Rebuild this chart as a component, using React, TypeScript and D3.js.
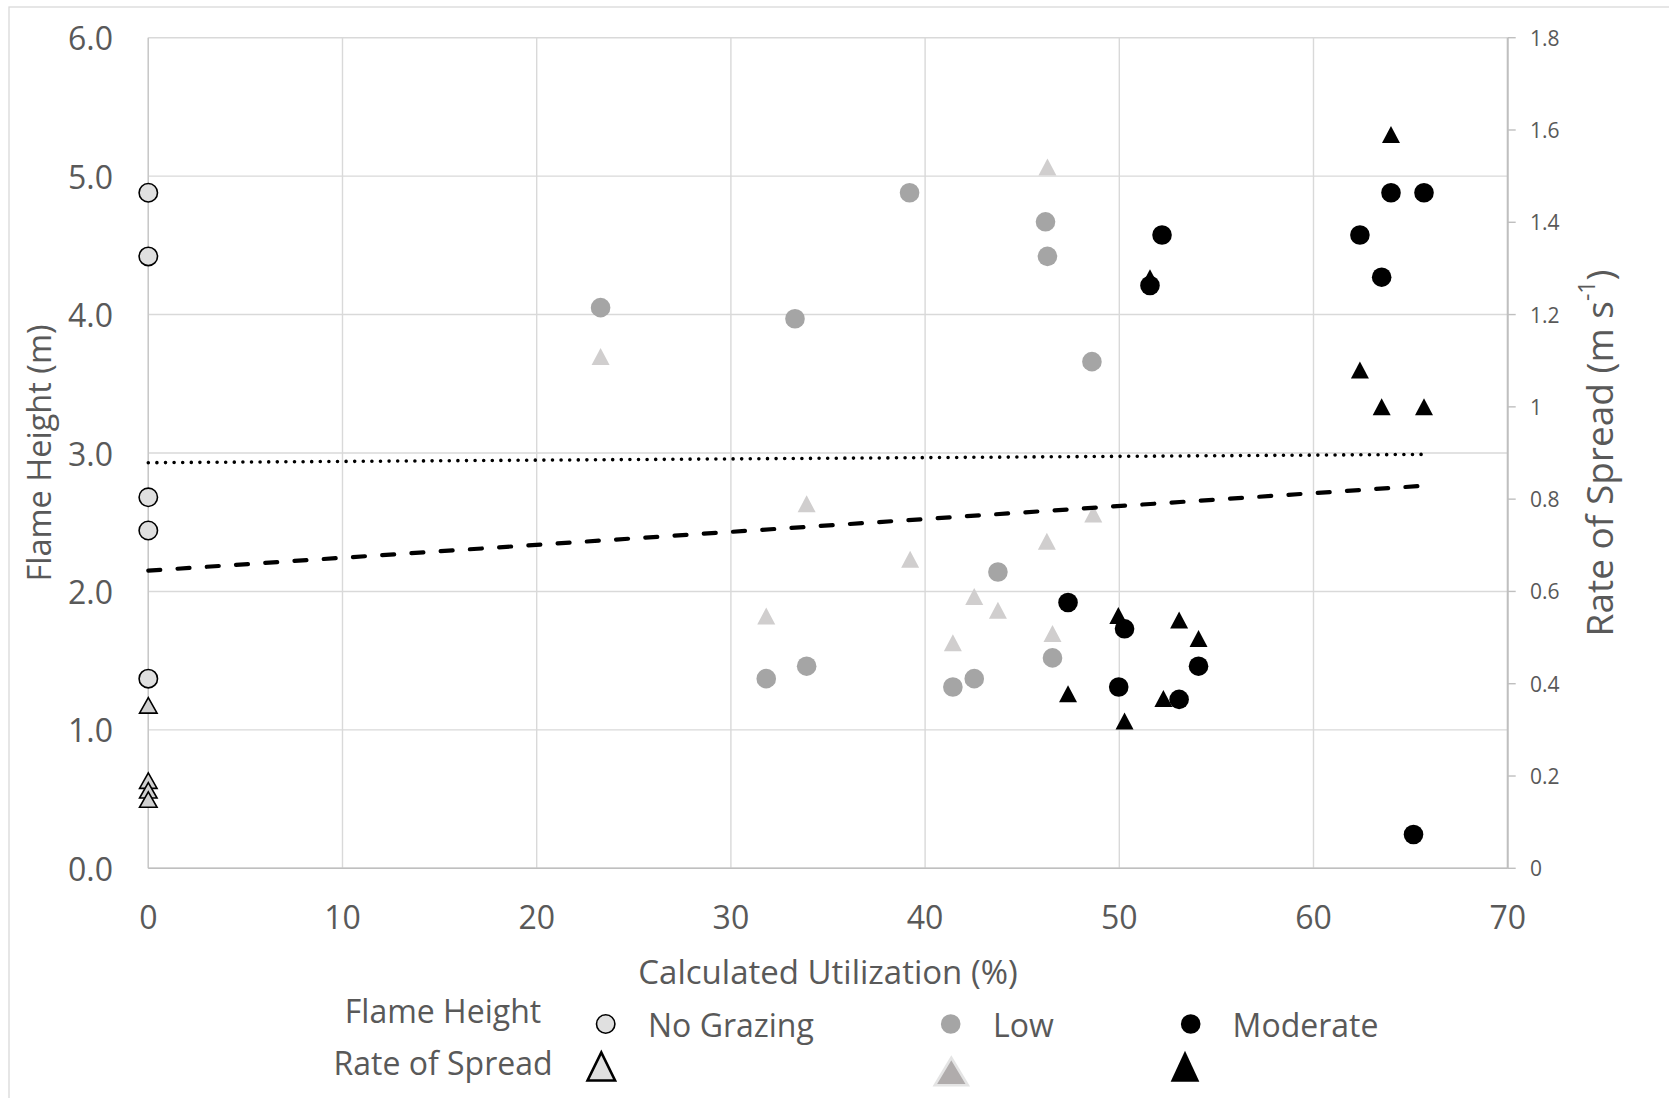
import React from "react";
import * as d3 from "d3";

// ---------- data ----------
const noGrazingFhX = [0, 0, 0, 0, 0];
const noGrazingFh = [4.88, 4.42, 2.68, 2.44, 1.37];
const noGrazingRosX = [0, 0, 0, 0];
const noGrazingRos = [0.353, 0.19, 0.169, 0.149];

const lowFhX = [23.29, 33.3, 39.2, 46.2, 46.3, 48.59, 43.75, 31.82, 33.9, 41.43, 42.53, 46.56];
const lowFh = [4.05, 3.97, 4.88, 4.67, 4.42, 3.66, 2.14, 1.37, 1.46, 1.31, 1.37, 1.52];
const lowRosX = [23.29, 33.9, 39.23, 46.3, 48.66, 46.27, 42.53, 43.75, 31.82, 41.43, 46.56];
const lowRos = [1.109, 0.79, 0.67, 1.52, 0.768, 0.709, 0.589, 0.559, 0.547, 0.489, 0.509];

const modFhX = [47.36, 50.27, 49.97, 54.08, 53.08, 51.58, 52.2, 62.39, 63.51, 63.99, 65.69, 65.15];
const modFh = [1.92, 1.73, 1.31, 1.46, 1.22, 4.21, 4.575, 4.575, 4.27, 4.88, 4.88, 0.244];
const modRosX = [63.99, 62.39, 63.51, 65.69, 51.58, 49.95, 53.08, 54.08, 47.36, 52.27, 50.27];
const modRos = [1.59, 1.08, 1.0, 1.0, 1.28, 0.548, 0.538, 0.498, 0.378, 0.368, 0.319];

const dottedTrendX = [0, 65.7];
const dottedTrendFh = [2.93, 2.99];
const dashedTrendX = [0, 65.7];
const dashedTrendRos = [0.645, 0.829];

const xTicks = [0, 10, 20, 30, 40, 50, 60, 70];
const leftTicks = [0, 1, 2, 3, 4, 5, 6];
const leftTickLabels = ["0.0", "1.0", "2.0", "3.0", "4.0", "5.0", "6.0"];
const rightTicks = [0, 0.2, 0.4, 0.6, 0.8, 1.0, 1.2, 1.4, 1.6, 1.8];
const rightTickLabels = ["0", "0.2", "0.4", "0.6", "0.8", "1", "1.2", "1.4", "1.6", "1.8"];

const legendGroups = ["No Grazing", "Low", "Moderate"];

// ---------- layout ----------
const W = 1669;
const H = 1098;
const FONT = "'Open Sans', 'Noto Sans', sans-serif";
const TEXT = "#595959";

const x = d3.scaleLinear().domain([0, 70]).range([148.3, 1507.7]);
const yL = d3.scaleLinear().domain([0, 6]).range([868.3, 37.7]);
const yR = d3.scaleLinear().domain([0, 1.8]).range([868.3, 37.7]);

function tri(cx: number, cy: number, w: number, h: number) {
  return `M${cx - w / 2},${cy + h / 2}L${cx + w / 2},${cy + h / 2}L${cx},${cy - h / 2}Z`;
}

const line = d3.line<[number, number]>().x((d) => d[0]).y((d) => d[1]);

export default function App() {
  const zip = (a: number[], b: number[]) => a.map((v, i) => [v, b[i]] as [number, number]);

  return (
    <svg
      width={W}
      height={H}
      style={{ position: "absolute", left: 0, top: 0, background: "#fff" }}
      fontFamily={FONT}
    >
      <rect x={0} y={0} width={W} height={H} fill="#fff" />
      <rect x={9} y={7} width={W + 20} height={H + 20} fill="none" stroke="#d9d9d9" strokeWidth={1.3} />

      {/* gridlines */}
      {leftTicks.map((t) => (
        <line key={"hg" + t} x1={x(0)} x2={x(70)} y1={yL(t)} y2={yL(t)} stroke="#d9d9d9" strokeWidth={1.4} />
      ))}
      {xTicks.map((t) => (
        <line key={"vg" + t} x1={x(t)} x2={x(t)} y1={yL(0)} y2={yL(6)} stroke="#d9d9d9" strokeWidth={1.4} />
      ))}
      {/* axes */}
      <line x1={x(0)} x2={x(0)} y1={yL(0)} y2={yL(6)} stroke="#c8c8c8" strokeWidth={1.4} />
      <line x1={x(0)} x2={x(70)} y1={yL(0)} y2={yL(0)} stroke="#bfbfbf" strokeWidth={1.6} />
      <line x1={x(70)} x2={x(70)} y1={yR(0)} y2={yR(1.8)} stroke="#bfbfbf" strokeWidth={2} />
      {rightTicks.map((t) => (
        <line key={"rt" + t} x1={x(70)} x2={x(70) + 8} y1={yR(t)} y2={yR(t)} stroke="#bfbfbf" strokeWidth={1.4} />
      ))}

      {/* tick labels */}
      {leftTicks.map((t, i) => (
        <text key={"lt" + t} x={113} y={yL(t)} dominantBaseline="central" textAnchor="end" fontSize={32} fill={TEXT}>
          {leftTickLabels[i]}
        </text>
      ))}
      {xTicks.map((t) => (
        <text key={"xt" + t} x={x(t)} y={928.5} textAnchor="middle" fontSize={32} fill={TEXT}>
          {t}
        </text>
      ))}
      {rightTicks.map((t, i) => (
        <text key={"rl" + t} x={1530} y={yR(t)} dominantBaseline="central" textAnchor="start" fontSize={21} fill={TEXT}>
          {rightTickLabels[i]}
        </text>
      ))}

      {/* axis titles */}
      <text
        transform={`translate(38,${(yL(0) + yL(6)) / 2}) rotate(-90)`}
        textAnchor="middle"
        dominantBaseline="central"
        fontSize={32.5}
        fill={TEXT}
      >
        Flame Height (m)
      </text>
      <text
        transform={`translate(1598,${(yL(0) + yL(6)) / 2}) rotate(-90)`}
        textAnchor="middle"
        dominantBaseline="central"
        fontSize={37}
        fill={TEXT}
      >
        Rate of Spread (m s<tspan dy={-12} fontSize={23}>-1</tspan>
        <tspan dy={12}>)</tspan>
      </text>
      <text x={(x(0) + x(70)) / 2} y={971} textAnchor="middle" dominantBaseline="central" fontSize={33} fill={TEXT}>
        Calculated Utilization (%)
      </text>

      {/* triangles (rate of spread) */}
      {zip(noGrazingRosX, noGrazingRos).map(([a, b], i) => (
        <path key={"ngt" + i} d={tri(x(a), yR(b), 17.5, 15.5)} fill="#d0d0d0" stroke="#000" strokeWidth={1.6} />
      ))}
      {zip(lowRosX, lowRos).map(([a, b], i) => (
        <path key={"lt" + i} d={tri(x(a), yR(b), 18, 17)} fill="#d0cece" />
      ))}
      {zip(modRosX, modRos).map(([a, b], i) => (
        <path key={"mt" + i} d={tri(x(a), yR(b), 18, 17)} fill="#000" />
      ))}

      {/* circles (flame height) */}
      {zip(noGrazingFhX, noGrazingFh).map(([a, b], i) => (
        <circle key={"ngc" + i} cx={x(a)} cy={yL(b)} r={9.2} fill="#e0e0e0" stroke="#000" strokeWidth={1.6} />
      ))}
      {zip(lowFhX, lowFh).map(([a, b], i) => (
        <circle key={"lc" + i} cx={x(a)} cy={yL(b)} r={9.8} fill="#a5a5a5" />
      ))}
      {zip(modFhX, modFh).map(([a, b], i) => (
        <circle key={"mc" + i} cx={x(a)} cy={yL(b)} r={9.8} fill="#000" />
      ))}

      {/* trend lines */}
      <path
        d={line(dottedTrendX.map((v, i) => [x(v), yL(dottedTrendFh[i])] as [number, number])) || ""}
        fill="none"
        stroke="#000"
        strokeWidth={3.6}
        strokeLinecap="round"
        strokeDasharray="0 8.6"
      />
      <path
        d={line(dashedTrendX.map((v, i) => [x(v), yR(dashedTrendRos[i])] as [number, number])) || ""}
        fill="none"
        stroke="#000"
        strokeWidth={4.2}
        strokeLinecap="round"
        strokeDasharray="12 17.3"
      />

      {/* legend */}
      <text x={443} y={1010} textAnchor="middle" dominantBaseline="central" fontSize={32} fill={TEXT}>
        Flame Height
      </text>
      <text x={443} y={1062} textAnchor="middle" dominantBaseline="central" fontSize={32} fill={TEXT}>
        Rate of Spread
      </text>
      <circle cx={605.7} cy={1024} r={9.2} fill="#e0e0e0" stroke="#000" strokeWidth={1.6} />
      <circle cx={950.7} cy={1024} r={9.8} fill="#a5a5a5" />
      <circle cx={1190.7} cy={1024} r={9.8} fill="#000" />
      <text x={648} y={1024} dominantBaseline="central" fontSize={32} fill={TEXT}>
        {legendGroups[0]}
      </text>
      <text x={993} y={1024} dominantBaseline="central" fontSize={32} fill={TEXT}>
        {legendGroups[1]}
      </text>
      <text x={1232.6} y={1024} dominantBaseline="central" fontSize={32} fill={TEXT}>
        {legendGroups[2]}
      </text>
      <path d={tri(601.3, 1066.5, 27.5, 28)} fill="#e0e0e0" stroke="#000" strokeWidth={2.6} />
      <path d={tri(951.3, 1071.5, 33, 27.5)} fill="#b0acac" stroke="#e4e4e4" strokeWidth={2.6} />
      <path d={tri(1185, 1066.2, 28.7, 31)} fill="#000" />
    </svg>
  );
}
